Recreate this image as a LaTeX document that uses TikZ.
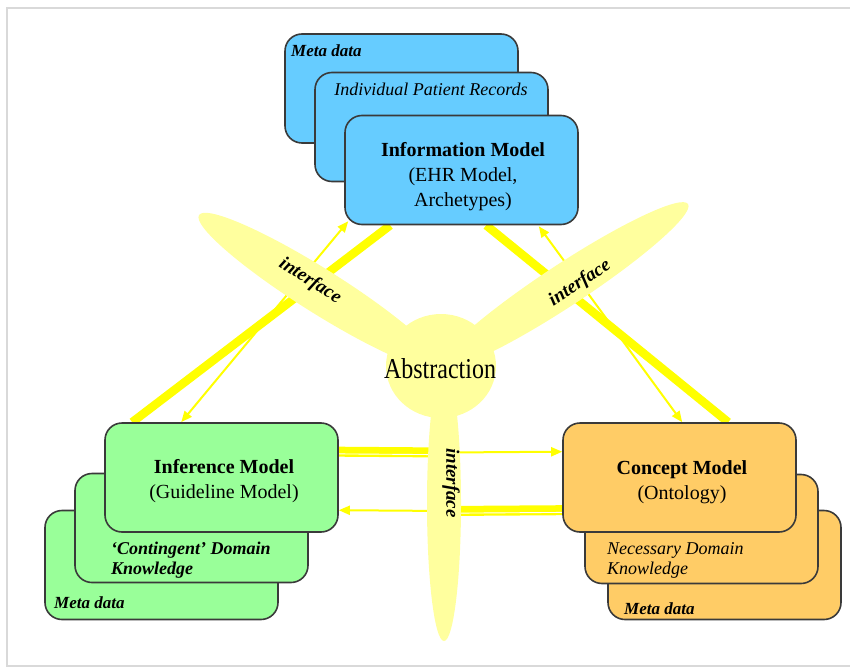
\documentclass[tikz,border=0pt]{standalone}
\usepackage{fontspec}
\setmainfont{Liberation Serif}
\usetikzlibrary{arrows.meta,calc}

\definecolor{infoblue}{HTML}{66CCFF}
\definecolor{infgreen}{HTML}{99FF99}
\definecolor{conorange}{HTML}{FFCC66}
\definecolor{paleyellow}{HTML}{FFFF9E}
\definecolor{linkyellow}{HTML}{FFFF00}
\definecolor{edgegray}{HTML}{3A3A3A}

\pgfdeclarelayer{back}
\pgfsetlayers{back,main}

\tikzset{
  modelbox/.style={draw=edgegray, line width=1.6pt, rounded corners=17pt,
    minimum width=233pt, minimum height=109pt, inner sep=0pt},
  headtext/.style={font=\fontsize{20}{25}\selectfont, align=center, inner sep=0pt},
  metatext/.style={font=\fontsize{17}{20}\selectfont\bfseries\itshape, inner sep=0pt},
  sidetext/.style={font=\fontsize{18}{20}\selectfont\itshape, inner sep=0pt, align=left},
  sidebold/.style={font=\fontsize{18}{20}\selectfont\bfseries\itshape, inner sep=0pt, align=left},
  bladetext/.style={font=\fontsize{19}{20}\selectfont\bfseries\itshape, inner sep=0pt},
  band/.style={linkyellow, line width=10pt},
  solidband/.style={linkyellow, line width=8.5pt},
  bandgap/.style={white, line width=0.9pt},
  onelink/.style={linkyellow, line width=2pt, -{Triangle[length=11pt,width=9pt]}},
  twolink/.style={linkyellow, line width=2pt,
    {Triangle[length=11pt,width=9pt]}-{Triangle[length=11pt,width=9pt]}},
  blade/.style={fill=paleyellow, draw=none},
}

% thick-thin compound band between two points; #3/#4 pick the side of the thin strip
\newcommand\compoundband[4]{%
  \draw[band] (#1) -- (#2);
  \draw[bandgap] ($(#1)!2.2pt!#3:(#2)$) -- ($(#2)!2.2pt!#4:(#1)$);
}

\begin{document}
\begin{tikzpicture}[x=1pt,y=-1pt]
\useasboundingbox (0,0) rectangle (850,668);

% page frame
\draw[gray!30, line width=1.5pt] (851,8) -- (7,8) -- (7,666) -- (851,666);

% information model stack
\node[modelbox, fill=infoblue] (infoback) at (401.5,88.5) {};
\node[modelbox, fill=infoblue] (infomid) at (431.5,127) {};
\node[modelbox, fill=infoblue] (info) at (461.5,170) {};
\node[metatext, anchor=west] (infometa) at (291,51) {Meta data};
\node[sidetext] (infoipr) at (431,89) {Individual Patient Records};
\node[headtext] (infotitle) at (463,177) {\textbf{Information Model}\\(EHR Model,\\Archetypes)};

% inference model stack
\node[modelbox, fill=infgreen] (infback) at (161.5,565) {};
\node[modelbox, fill=infgreen] (infmid) at (191.5,528) {};
\node[modelbox, fill=infgreen] (inf) at (221.5,477.5) {};
\node[headtext] (inftitle) at (224,481) {\textbf{Inference Model}\\(Guideline Model)};
\node[sidebold, anchor=west] (infdomain) at (111,560) {‘Contingent’ Domain\\Knowledge};
\node[metatext, anchor=west] (infmeta) at (54,603) {Meta data};

% concept model stack
\node[modelbox, fill=conorange] (conback) at (724.5,565) {};
\node[modelbox, fill=conorange] (conmid) at (701.5,529) {};
\node[modelbox, fill=conorange] (con) at (679.5,477.5) {};
\node[headtext] (contitle) at (682,482) {\textbf{Concept Model}\\(Ontology)};
\node[sidetext, anchor=west] (condomain) at (607,560) {Necessary Domain\\Knowledge};
\node[metatext, anchor=west] (conmeta) at (624,609) {Meta data};

% abstraction hub labels
\node[font=\fontsize{24}{26}\selectfont, inner sep=0pt] (abstr) at (440,369)
  {\scalebox{1}[1.2]{Abstraction}};
\node[bladetext, rotate=-32.2] (ifleft) at (310,281) {interface};
\node[bladetext, rotate=33.3] (ifright) at (580,283) {interface};
\node[bladetext, rotate=-90] (ifdown) at (451,483) {interface};

\coordinate (hmidtop) at (447,452.5);
\coordinate (hmidbot) at (447,511);

\begin{pgfonlayer}{back}
  % links between the models
  \draw[solidband] ($(inf.north west)+(28,0)$) -- ($(info.south west)+(46,0)$);
  \draw[twolink] ($(inf.north west)+(77,0)$) -- ($(info.south west)+(4,-4)$);

  \draw[solidband] ($(info.south west)+(142,0)$) -- ($(con.north west)+(166,0)$);
  \draw[twolink] ($(info.south east)+(-40,1)$) -- ($(con.north west)+(120,0)$);

  \compoundband{$(inf.north east)+(0,29.5)$}{hmidtop}{-90}{90}
  \draw[onelink] (hmidtop) -- ($(con.north west)+(0,29.5)$);

  \compoundband{$(con.north west)+(0,88)$}{hmidbot}{90}{-90}
  \draw[onelink] (hmidbot) -- ($(inf.north east)+(0,88)$);

  % abstraction hub with its three interface blades
  \fill[blade, rotate around={-32.2:(319.6,291)}] (319.6,291) ellipse [x radius=142.5, y radius=22];
  \fill[blade, rotate around={33.3:(564,285.5)}] (564,285.5) ellipse [x radius=148.4, y radius=21];
  \fill[blade] (444,503.5) ellipse [x radius=17, y radius=137.5];
  \fill[blade] (441,366) ellipse [x radius=55, y radius=52];
\end{pgfonlayer}
\end{tikzpicture}
\end{document}
